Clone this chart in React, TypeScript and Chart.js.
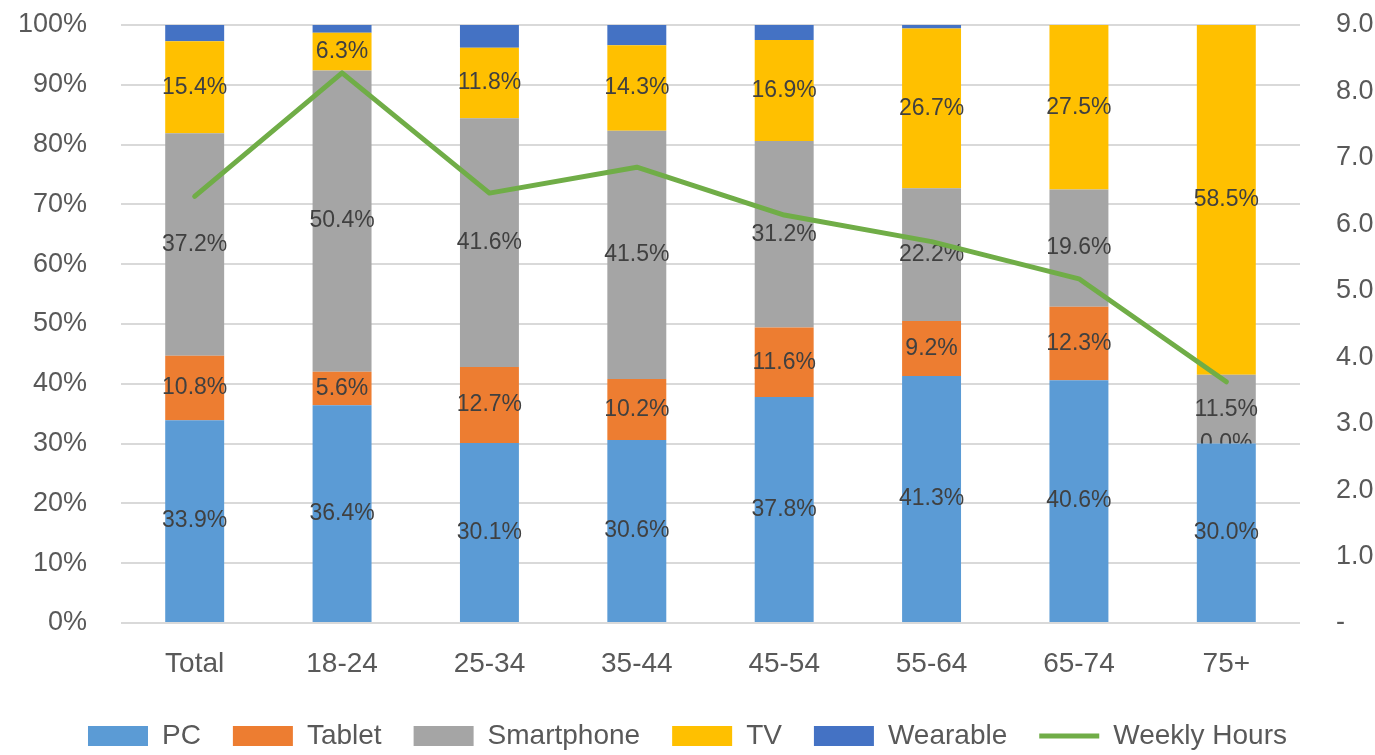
import React, { useEffect, useRef } from "react";
import { Chart, registerables } from "chart.js";

Chart.register(...registerables);

// Age groups along the x axis
const categories = ["Total", "18-24", "25-34", "35-44", "45-54", "55-64", "65-74", "75+"];

// Share of viewing time per device (%)
const pcShare = [33.9, 36.4, 30.1, 30.6, 37.8, 41.3, 40.6, 30.0];
const tabletShare = [10.8, 5.6, 12.7, 10.2, 11.6, 9.2, 12.3, 0.0];
const smartphoneShare = [37.2, 50.4, 41.6, 41.5, 31.2, 22.2, 19.6, 11.5];
const tvShare = [15.4, 6.3, 11.8, 14.3, 16.9, 26.7, 27.5, 58.5];
const wearableShare = [2.7, 1.3, 3.8, 3.4, 2.5, 0.6, 0.0, 0.0];

// Average weekly viewing hours (right axis)
const weeklyHours = [6.42, 8.28, 6.47, 6.86, 6.14, 5.74, 5.18, 3.63];

const FONT = "'Liberation Sans', Arial, sans-serif";
const TICK_COLOR = "#595959";
const LABEL_COLOR = "#404040";

// Writes each segment's percentage in the middle of its bar piece
const segmentLabels = {
  id: "segmentLabels",
  afterDatasetDraw(chart: any, args: any) {
    const ds = chart.data.datasets[args.index];
    if (ds.type === "line" || ds.label === "Wearable") return;
    const ctx = chart.ctx;
    ctx.save();
    ctx.font = `23px ${FONT}`;
    ctx.fillStyle = LABEL_COLOR;
    ctx.textAlign = "center";
    ctx.textBaseline = "middle";
    args.meta.data.forEach((el: any, i: number) => {
      const v = ds.data[i] as number;
      const y = (el.y + el.base) / 2;
      ctx.fillText(v.toFixed(1) + "%", el.x, y);
    });
    ctx.restore();
  },
};

// Vertical axes: fixed width, and no extra room reserved above/below the plot
const fixVertical = (width: number) => (scale: any) => {
  scale.width = width;
  scale.paddingTop = 0;
  scale.paddingBottom = 0;
};

export default function App() {
  const canvasRef = useRef<HTMLCanvasElement | null>(null);

  useEffect(() => {
    if (!canvasRef.current) return;
    const barSet = (label: string, data: number[], color: string) => ({
      type: "bar" as const,
      label,
      data,
      backgroundColor: color,
      borderWidth: 0,
      stack: "share",
      yAxisID: "y",
      order: 1,
      pointStyle: "rect",
      barPercentage: 0.4,
      categoryPercentage: 1,
    });

    const chart = new Chart(canvasRef.current, {
      type: "bar",
      data: {
        labels: categories,
        datasets: [
          barSet("PC", pcShare, "#5B9BD5"),
          barSet("Tablet", tabletShare, "#ED7D31"),
          barSet("Smartphone", smartphoneShare, "#A5A5A5"),
          barSet("TV", tvShare, "#FFC000"),
          barSet("Wearable", wearableShare, "#4472C4"),
          {
            type: "line" as const,
            label: "Weekly Hours",
            data: weeklyHours,
            borderColor: "#70AD47",
            backgroundColor: "#70AD47",
            borderWidth: 5,
            borderCapStyle: "round",
            borderJoinStyle: "round",
            pointRadius: 0,
            pointHoverRadius: 0,
            tension: 0,
            yAxisID: "y1",
            order: 0,
            pointStyle: "line",
          } as any,
        ],
      },
      options: {
        responsive: false,
        animation: false,
        layout: { padding: { top: 25, left: 0, right: 0, bottom: -5 } },
        plugins: {
          tooltip: { enabled: false },
          legend: {
            position: "bottom",
            labels: {
              usePointStyle: true,
              pointStyleWidth: 60,
              boxHeight: 20,
              padding: 32,
              color: TICK_COLOR,
              font: { family: FONT, size: 28 },
              sort: (a: any, b: any) => a.datasetIndex - b.datasetIndex,
            },
          },
        },
        scales: {
          x: {
            stacked: true,
            grid: { display: false, drawTicks: false },
            border: { display: false },
            ticks: {
              color: TICK_COLOR,
              font: { family: FONT, size: 28 },
              padding: 24,
            },
            afterFit(scale: any) {
              scale.height = 67;
            },
          },
          y: {
            stacked: true,
            position: "left",
            min: 0,
            max: 100,
            ticks: {
              stepSize: 10,
              color: TICK_COLOR,
              font: { family: FONT, size: 27 },
              padding: 34,
              callback: (v: any) => `${v}%`,
            },
            grid: { color: "#D9D9D9", lineWidth: 2, drawTicks: false },
            border: { display: false },
            afterFit: fixVertical(121),
          },
          y1: {
            position: "right",
            min: 0,
            max: 9,
            ticks: {
              stepSize: 1,
              color: TICK_COLOR,
              font: { family: FONT, size: 27 },
              padding: 36,
              callback: (v: any) => (Number(v) === 0 ? "-" : Number(v).toFixed(1)),
            },
            grid: { drawOnChartArea: false, drawTicks: false },
            border: { display: false },
            afterFit: fixVertical(75),
          },
        },
      },
      plugins: [segmentLabels],
    });
    return () => chart.destroy();
  }, []);

  return (
    <div style={{ position: "absolute", left: 0, top: 0, width: 1375, height: 755, background: "#fff" }}>
      <canvas ref={canvasRef} width={1375} height={755} />
    </div>
  );
}
